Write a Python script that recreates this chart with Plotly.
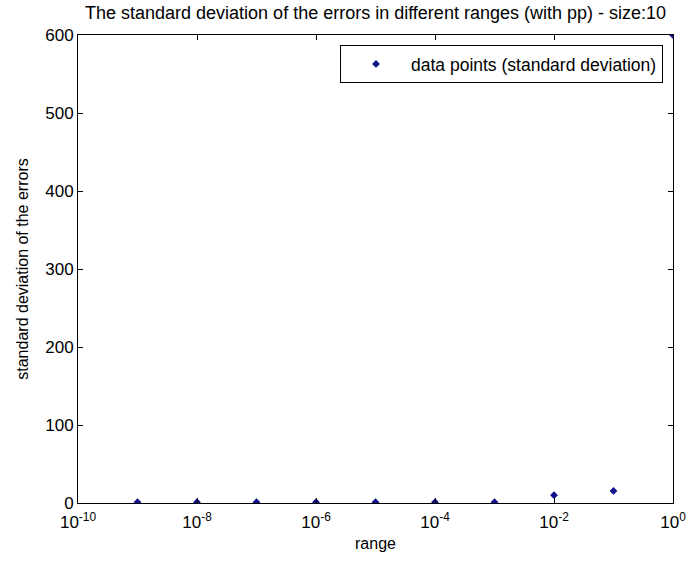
import plotly.graph_objects as go

x_range = [1e-9, 1e-8, 1e-7, 1e-6, 1e-5, 1e-4, 1e-3, 1e-2, 1e-1, 1e0]
std_dev = [1.0, 1.0, 1.0, 1.0, 1.0, 1.0, 1.0, 10.0, 15.5, 600.0]
x_tickvals = [1e-10, 1e-8, 1e-6, 1e-4, 1e-2, 1e0]
x_ticktext = ["10<sup>-10</sup>", "10<sup>-8</sup>", "10<sup>-6</sup>", "10<sup>-4</sup>", "10<sup>-2</sup>", "10<sup>0</sup>"]
y_tickvals = [0, 100, 200, 300, 400, 500, 600]

font_main = "Liberation Sans, Arial, Helvetica, sans-serif"

L, R, T, B = 78, 673, 35, 503
W, H = 697, 561

fig = go.Figure()
fig.add_trace(go.Scatter(
    x=x_range, y=std_dev, mode="markers",
    name="data points (standard deviation)",
    marker=dict(symbol="diamond", size=6, color="#10108c"),
    cliponaxis=True,
))

fig.update_layout(
    width=W, height=H,
    margin=dict(l=L, r=W - R, t=T, b=H - B, autoexpand=False),
    paper_bgcolor="white", plot_bgcolor="white",
    title=dict(text="The standard deviation of the errors in different ranges (with pp) - size:10",
               x=(L + R) / 2 / W, xanchor="center", y=1 - 13 / H, yanchor="middle",
               font=dict(family=font_main, size=18, color="black")),
    showlegend=True,
    legend=dict(x=(663 - L) / (R - L), xanchor="right", y=(B - 45) / (B - T), yanchor="top",
                bgcolor="white", bordercolor="black", borderwidth=1, itemwidth=60,
                font=dict(family=font_main, size=17.5, color="black")),
    font=dict(family=font_main, color="black"),
)

fig.update_xaxes(
    type="log", range=[-10, 0],
    tickvals=x_tickvals, ticktext=x_ticktext,
    ticks="inside", ticklen=5, tickcolor="black",
    showline=True, linecolor="black", linewidth=1, mirror="ticks",
    showgrid=False, zeroline=False, ticklabelstandoff=4,
    tickfont=dict(family=font_main, size=17, color="black"),
    title=dict(text="range", font=dict(family=font_main, size=16, color="black"), standoff=6),
)
fig.update_yaxes(
    range=[0, 600], tickvals=y_tickvals,
    ticks="inside", ticklen=5, tickcolor="black",
    showline=True, linecolor="black", linewidth=1, mirror="ticks",
    showgrid=False, zeroline=False,
    tickfont=dict(family=font_main, size=17, color="black"),
    title=dict(text="standard deviation of the errors", font=dict(family=font_main, size=16, color="black"), standoff=12),
)

fig.write_html("out.html", config={"displayModeBar": False},
               post_script="document.body.style.margin='0px';")
